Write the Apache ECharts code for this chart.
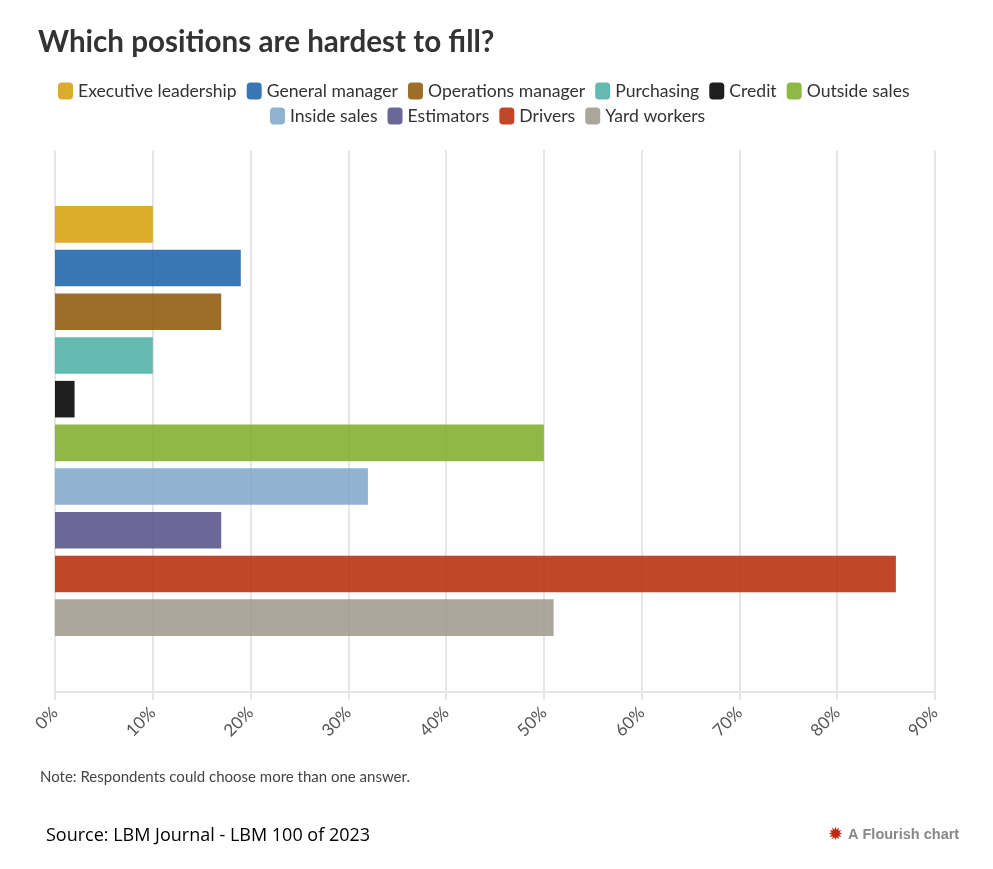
<!DOCTYPE html>
<html><head><meta charset="utf-8">
<script src="https://cdn.jsdelivr.net/npm/echarts@6/dist/echarts.min.js"></script>
<style>html,body{margin:0;padding:0;background:#fff}#c{width:993px;height:869px}</style>
</head><body><div id="c"></div>
<script>
const categories = ['Positions'];
const seriesNames = ['Executive leadership','General manager','Operations manager','Purchasing','Credit','Outside sales','Inside sales','Estimators','Drivers','Yard workers'];
const seriesValues = [10, 19, 17, 10, 2, 50, 32, 17, 86, 51];
const seriesColors = ['#d6a20e','#1f63a8','#8f5a0a','#4fb0a5','#000000','#7fae2e','#7fa9cb','#56528a','#ba2c0c','#a29a8d'];
const xTicks = [0,10,20,30,40,50,60,70,80,90];

const FONT = 'Lato';
const chart = echarts.init(document.getElementById('c'), null, {renderer:'canvas'});
const series = seriesNames.map((n,i)=>({
  name:n, type:'bar', data:[seriesValues[i]],
  barWidth:36.6, barGap:'19.4%',
  itemStyle:{color:seriesColors[i], opacity:0.88},
  emphasis:{disabled:true}
}));
const legendStyle = {fontFamily:FONT, fontSize:17.6, color:'#333'};
chart.setOption({
  animation:false,
  title:{text:'Which positions are hardest to fill?', left:33, top:22,
    textStyle:{fontFamily:FONT, fontWeight:'bold', fontSize:29.6, color:'#333'}},
  legend:[
    {data:seriesNames.slice(0,6), top:77, left:53, itemWidth:15, itemHeight:17, itemGap:10,
     icon:'roundRect', textStyle:legendStyle, selectedMode:false},
    {data:seriesNames.slice(6), top:102, left:265, itemWidth:15, itemHeight:17, itemGap:10,
     icon:'roundRect', textStyle:legendStyle, selectedMode:false}
  ],
  grid:{left:55, right:58, top:150, bottom:177, containLabel:false},
  xAxis:{type:'value', min:0, max:90, interval:10,
    axisLine:{show:true, lineStyle:{color:'#e6e6e6', width:2}},
    axisTick:{show:true, length:8, lineStyle:{color:'#e6e6e6', width:2}},
    splitLine:{show:true, lineStyle:{color:'#e6e6e6', width:2}},
    axisLabel:{rotate:45, formatter:v=>v+'%', fontFamily:FONT, fontSize:17, color:'#555', margin:18}
  },
  yAxis:{type:'category', data:categories, inverse:true,
    axisLine:{show:false}, axisTick:{show:false}, axisLabel:{show:false}, splitLine:{show:false}},
  series:series,
  graphic:[
    {type:'text', left:40, top:770, style:{text:'Note: Respondents could choose more than one answer.', fontFamily:FONT, fontSize:15, fill:'#444'}},
    {type:'text', left:46, top:827, style:{text:'Source: LBM Journal - LBM 100 of 2023', fontFamily:'Open Sans', fontSize:18, fill:'#000'}},
    {type:'text', left:828, top:826, style:{text:'✹', fontFamily:'DejaVu Sans', fontSize:18, fill:'#c0280f'}},
    {type:'text', left:848, top:827, style:{text:'A Flourish chart', fontFamily:'Liberation Sans', fontWeight:'bold', fontSize:14.5, fill:'#888'}}
  ]
});
</script></body></html>
